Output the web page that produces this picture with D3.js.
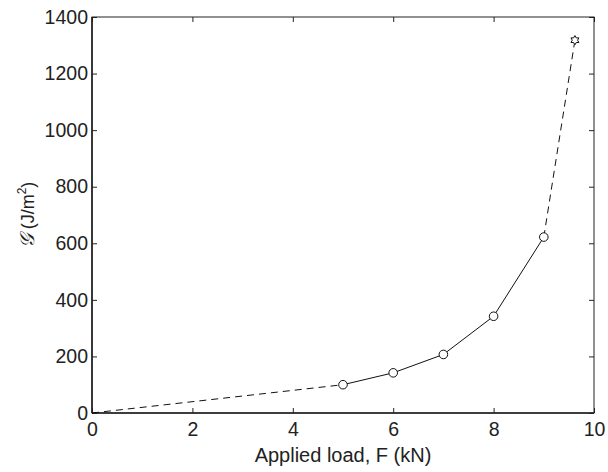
<!DOCTYPE html>
<html><head><meta charset="utf-8">
<script src="https://cdn.jsdelivr.net/npm/d3@7"></script>
<style>body{margin:0;background:#fff}svg{display:block}text{font-family:"Liberation Sans",Arial,sans-serif;fill:#222}</style>
</head><body><svg id="c" width="608" height="472"></svg>
<script>
const xTicks=[0,2,4,6,8,10];
const yTicks=[0,200,400,600,800,1000,1200,1400];
const measuredX=[5,6,7,8,9];
const measuredG=[100,142,207,342,622];
const extrapLowX=[0,5];
const extrapLowG=[0,100];
const extrapHighX=[9,9.62];
const extrapHighG=[622,1318];
const criticalX=[9.62];
const criticalG=[1318];

const svg=d3.select("#c");
const m={l:92,r:14,t:17,b:59};
const W=608-m.l-m.r,H=472-m.t-m.b;
const x=d3.scaleLinear().domain([0,10]).range([0,W]);
const y=d3.scaleLinear().domain([0,1400]).range([H,0]);
const g=svg.append("g").attr("transform",`translate(${m.l},${m.t})`);

const tl=5;
function styleAxis(a){a.select(".domain").remove();a.selectAll("line").attr("stroke","#222");a.selectAll("text").style("font-size","19.5px").attr("fill","#222");}
g.append("g").attr("transform",`translate(0,${H})`).call(d3.axisBottom(x).tickValues(xTicks).tickSize(-tl).tickPadding(9).tickFormat(d3.format("d"))).call(styleAxis);
g.append("g").call(d3.axisTop(x).tickValues(xTicks).tickSize(-tl).tickFormat("")).call(styleAxis);
g.append("g").call(d3.axisLeft(y).tickValues(yTicks).tickSize(-tl).tickPadding(4).tickFormat(d3.format("d"))).call(styleAxis);
g.append("g").attr("transform",`translate(${W},0)`).call(d3.axisRight(y).tickValues(yTicks).tickSize(-tl).tickFormat("")).call(styleAxis);
g.append("rect").attr("width",W).attr("height",H).attr("fill","none").attr("stroke","#222").attr("stroke-width",1);
g.append("line").attr("x1",0).attr("x2",0).attr("y1",0).attr("y2",H).attr("stroke","#222").attr("stroke-width",1.6);
g.append("line").attr("x1",0).attr("x2",W).attr("y1",H).attr("y2",H).attr("stroke","#222").attr("stroke-width",1.6);

const line=d3.line().x(d=>x(d[0])).y(d=>y(d[1]));
const zip=(a,b)=>a.map((v,i)=>[v,b[i]]);
g.append("path").attr("d",line(zip(extrapLowX,extrapLowG))).attr("fill","none").attr("stroke","#111").attr("stroke-width",1).attr("stroke-dasharray","7,5");
g.append("path").attr("d",line(zip(extrapHighX,extrapHighG))).attr("fill","none").attr("stroke","#111").attr("stroke-width",1).attr("stroke-dasharray","7,5");
g.append("path").attr("d",line(zip(measuredX,measuredG))).attr("fill","none").attr("stroke","#111").attr("stroke-width",1);
g.selectAll("circle.m").data(zip(measuredX,measuredG)).enter().append("circle")
 .attr("cx",d=>x(d[0])).attr("cy",d=>y(d[1])).attr("r",4.3).attr("fill","#fff").attr("stroke","#111").attr("stroke-width",1);
function hexagram(R){const r=R*0.577;let p=[];for(let i=0;i<12;i++){const a=-Math.PI/2+i*Math.PI/6;const rr=i%2?r:R;p.push([rr*Math.cos(a),rr*Math.sin(a)]);}return "M"+p.map(q=>q.join(",")).join("L")+"Z";}
g.selectAll("path.s").data(zip(criticalX,criticalG)).enter().append("path")
 .attr("d",hexagram(4.6)).attr("transform",d=>`translate(${x(d[0])},${y(d[1])})`).attr("fill","#fff").attr("stroke","#111").attr("stroke-width",1);

svg.append("text").attr("x",m.l+W/2).attr("y",462).attr("text-anchor","middle").style("font-size","20px").text("Applied load, F (kN)");
const yl=svg.append("text").attr("transform",`translate(34,${m.t+H/2}) rotate(-90)`).attr("text-anchor","middle").style("font-size","18px");
yl.append("tspan").style("font-family","'DejaVu Serif',serif").style("font-style","italic").style("font-size","20px").text("𝒢");
yl.append("tspan").text(" (J/m");
yl.append("tspan").attr("dy",-8).style("font-size","12px").text("2");
yl.append("tspan").attr("dy",8).text(")");
</script></body></html>
